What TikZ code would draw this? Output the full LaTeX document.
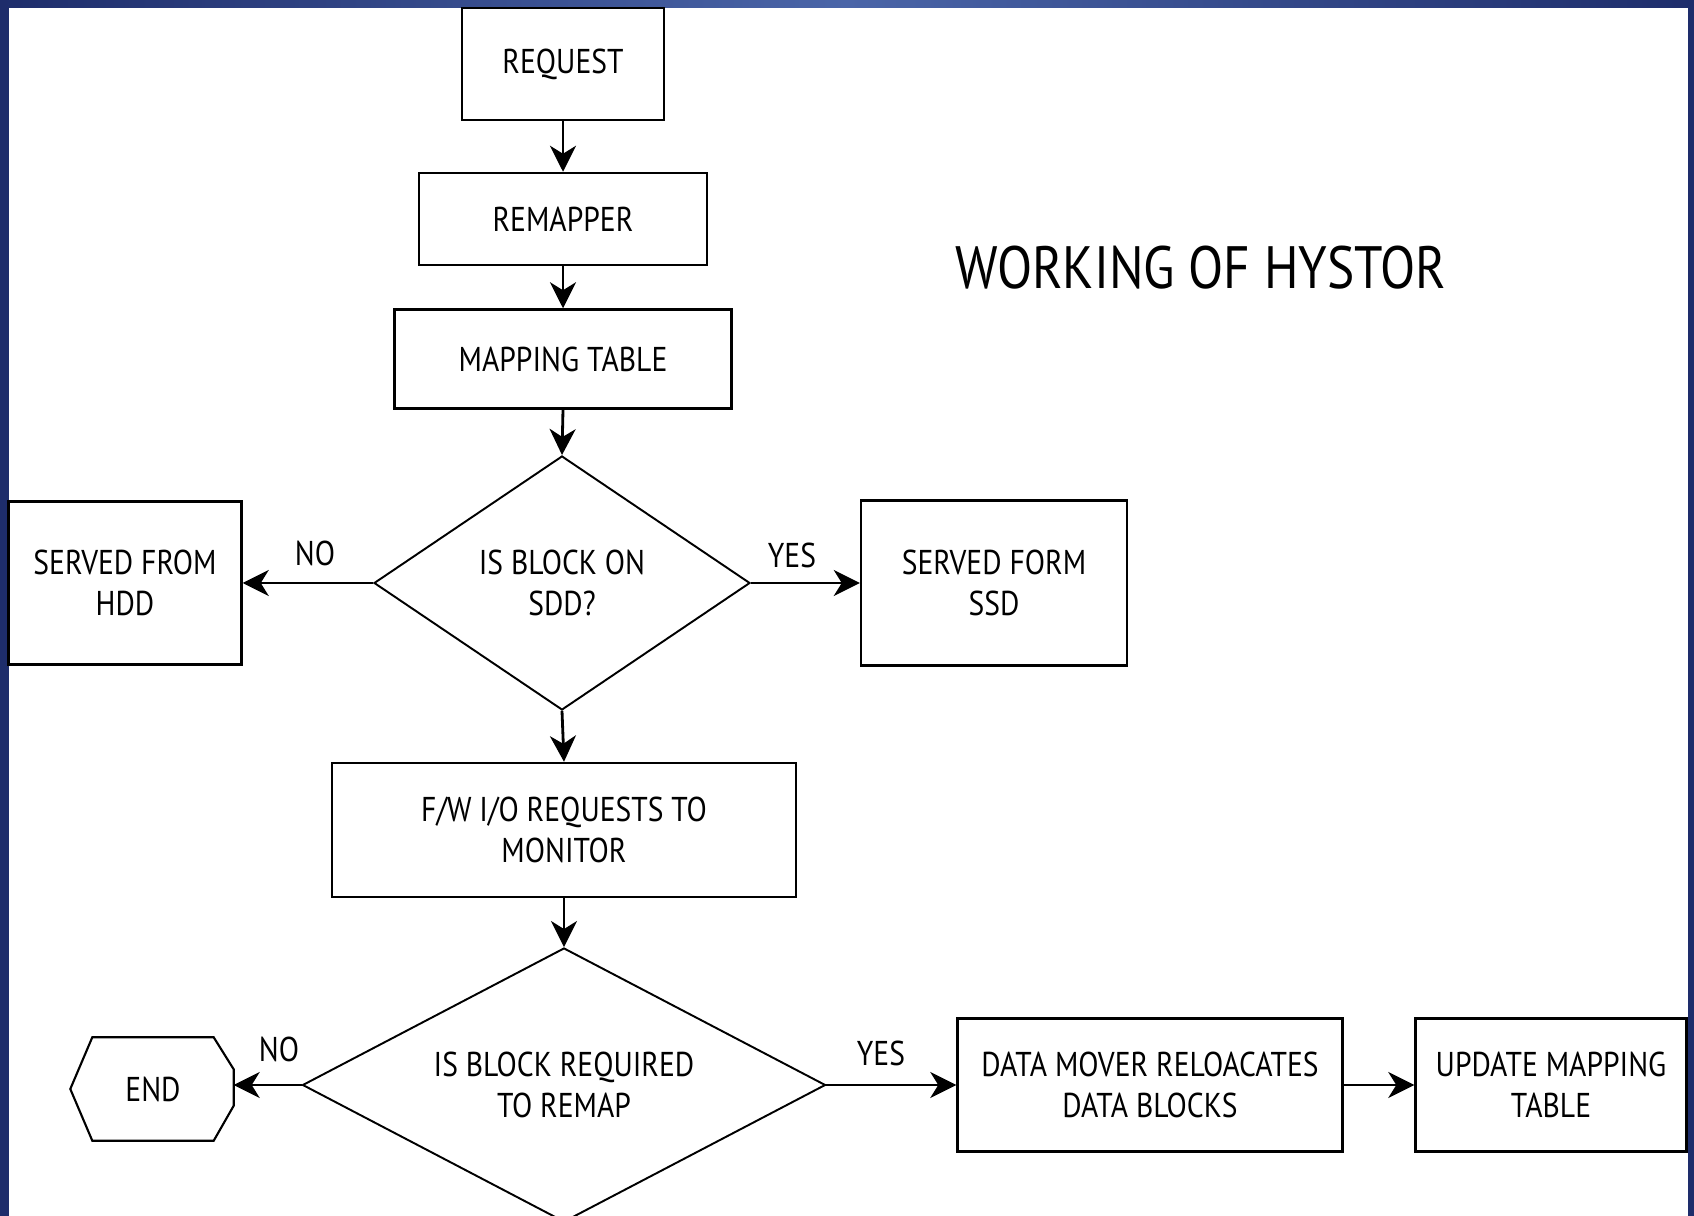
\documentclass[tikz,border=0pt]{standalone}
\usepackage{fontspec}
\setmainfont{PT Sans}[FakeStretch=0.86]
\usepackage{tikz}
\usetikzlibrary{shapes.geometric,arrows.meta,positioning}

\definecolor{frameblue}{HTML}{1E2D6B}
\definecolor{framelight}{HTML}{4A65A8}

\begin{document}
\begin{tikzpicture}[
    every node/.style = {align=center, font=\fontsize{9.8}{11.7}\selectfont},
    box/.style = {draw, line width=0.7pt, fill=white, inner sep=0pt},
    decision/.style = {draw, diamond, line width=0.55pt, inner sep=0pt},
    flow/.style = {-{Stealth[length=0.26cm,width=0.26cm,inset=0.08cm]}, line width=0.8pt}]
    \useasboundingbox (0,0) rectangle (16.94,-12.16);
    % frame
    \fill[frameblue] (0,0) rectangle (16.94,-12.16);
    \fill[white] (0.09,-0.08) rectangle (16.88,-12.16);
    \shade[left color=frameblue, right color=frameblue, middle color=framelight] (0,0) rectangle (16.94,-0.08);

    \node[box, minimum width=2.02cm, minimum height=1.12cm] (request) at (5.63,-0.64) {REQUEST};
    \node[box, minimum width=2.88cm, minimum height=0.92cm] (remapper) at (5.63,-2.19) {REMAPPER};
    \node[box, minimum width=3.37cm, minimum height=0.99cm] (mapping) at (5.63,-3.59) {MAPPING TABLE};
    \node[decision, aspect=1.48, minimum width=3.76cm, minimum height=2.54cm] (onssd) at (5.62,-5.83) {IS BLOCK ON\\SDD?};
    \node[box, minimum width=2.33cm, minimum height=1.63cm] (hdd) at (1.25,-5.83) {SERVED FROM\\HDD};
    \node[box, minimum width=2.66cm, minimum height=1.65cm] (ssd) at (9.94,-5.83) {SERVED FORM\\SSD};
    \node[box, minimum width=4.64cm, minimum height=1.34cm] (monitor) at (5.64,-8.30) {F/W I/O REQUESTS TO\\MONITOR};
    \node[decision, aspect=1.91, minimum width=5.23cm, minimum height=2.74cm] (remap) at (5.64,-10.85) {IS BLOCK REQUIRED\\TO REMAP};
    \node[minimum width=1.6cm, minimum height=1.02cm, inner sep=0pt] (end) at (1.53,-10.89) {END};
    \node[box, minimum width=3.85cm, minimum height=1.33cm] (mover) at (11.50,-10.85) {DATA MOVER RELOACATES\\DATA BLOCKS};
    \node[box, minimum width=2.71cm, minimum height=1.33cm] (update) at (15.51,-10.85) {UPDATE MAPPING\\TABLE};
    \node[font=\fontsize{17}{20}\selectfont] (title) at (12.01,-2.68) {WORKING OF HYSTOR};

    % end terminal outline
    \draw[line width=0.6pt] ([xshift=-0.02cm]end.west) -- ([xshift=0.2cm]end.north west)
      -- ([xshift=-0.2cm]end.north east) -- ([yshift=-0.32cm]end.north east)
      -- ([yshift=0.35cm]end.south east) -- ([xshift=-0.2cm]end.south east)
      -- ([xshift=0.2cm]end.south west) -- cycle;

    \node (no1) at (3.15,-5.53) {NO};
    \node (yes1) at (7.92,-5.55) {YES};
    \node (no2) at (2.79,-10.49) {NO};
    \node (yes2) at (8.81,-10.53) {YES};

    \draw[flow] (request) -- (remapper);
    \draw[flow] (remapper) -- (mapping);
    \draw[flow] (mapping.south) -- (onssd.north);
    \draw[flow] (onssd.west) -- (hdd.east);
    \draw[flow] (onssd.east) -- (ssd.west);
    \draw[flow] (onssd.south) -- (monitor.north);
    \draw[flow] (monitor.south) -- (remap.north);
    \draw[flow] (remap.west) -- (remap.west -| end.east);
    \draw[flow] (remap.east) -- (mover.west);
    \draw[flow] (mover) -- (update);
\end{tikzpicture}
\end{document}
